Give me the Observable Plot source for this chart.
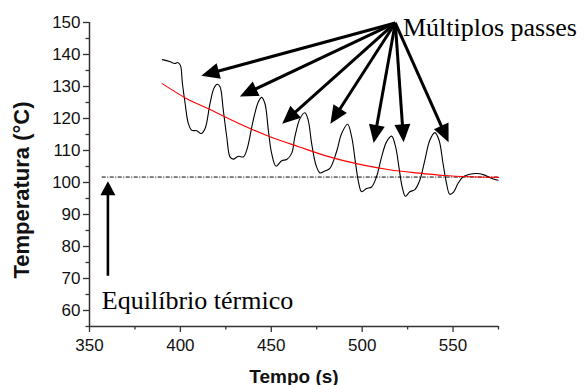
<!DOCTYPE html>
<html>
<head>
<meta charset="utf-8">
<script src="https://cdn.jsdelivr.net/npm/d3@7"></script>
<script src="https://cdn.jsdelivr.net/npm/@observablehq/plot@0.6"></script>
<style>
  body { margin: 0; background: #fff; }
</style>
</head>
<body>
<div id="chart"></div>
<script>
// Measured temperature during the multi-pass run
const timeS = [390.1, 394, 397, 398.5, 400, 401.1, 402.6, 404.4, 406.3, 409, 411.4, 413.6, 416.3, 418.5, 420.3, 421.8,
  423.6, 425.5, 427.3, 429.1, 431.9, 434.6, 436.5, 440.1, 442.9, 444.7, 446.5, 448.4, 450.2, 452.6, 455.7, 458.5,
  461.2, 463.0, 465.8, 468.5, 470.3, 472.2, 474.6, 476.8, 479.5, 482.2, 485.9, 488.7, 492.0, 494.2, 496.4, 497.8,
  499.7, 502.4, 505.2, 507.9, 510.7, 513.4, 516.2, 518.4, 520.2, 522.0, 523.8, 526.2, 529.0, 531.7, 534.5, 537.2,
  540.0, 542.3, 544.5, 546.4, 548.2, 550.4, 552.7, 555.5, 559.2, 563.7, 567.4, 571.1, 574.7];
const tempC = [138.4, 137.8, 137.2, 137.5, 136.6, 131.0, 124.7, 118.4, 116.3, 116.2, 115.3, 116.9, 124.7, 129.5, 130.7, 129.9,
  122.6, 114.3, 108.0, 107.3, 108.2, 108.0, 110.1, 119.5, 125.2, 126.6, 124.7, 116.3, 109.1, 105.1, 106.8, 107.2,
  109.1, 114.3, 120.0, 121.8, 119.5, 112.2, 105.4, 103.0, 103.6, 104.4, 109.6, 115.3, 118.2, 114.3, 105.9, 100.7,
  97.1, 98.1, 98.6, 101.8, 108.0, 112.7, 114.5, 111.1, 104.9, 98.6, 95.7, 97.1, 97.8, 100.7, 107.0, 113.2,
  115.6, 113.2, 105.9, 99.7, 96.3, 97.1, 99.7, 101.8, 102.6, 102.8, 102.3, 101.3, 100.7];

// Decay trend of the peak temperature
const trendTime = [390, 403.5, 416.3, 435.5, 449.3, 465, 482, 500, 515, 530, 545, 560, 575];
const trendTemp = [130.9, 126.2, 122.8, 117.6, 114.3, 111.2, 108.0, 105.5, 104.0, 103.0, 102.2, 101.8, 101.6];

// Thermal equilibrium level
const equilibriumTemp = 101.7;
const equilibriumStart = 357;

// Axis ticks
const xTicks = [350, 400, 450, 500, 550];
const xMinorTicks = [375, 425, 475, 525, 575];
const yTicks = [60, 70, 80, 90, 100, 110, 120, 130, 140, 150];
const yMinorTicks = [55, 65, 75, 85, 95, 105, 115, 125, 135, 145];

// Annotation arrows: one per pass, all leaving the label
const passLabel = "Múltiplos passes";
const passOriginX = 518.5, passOriginY = 149.7;
const passTipX = [411.8, 433.0, 456.3, 482.8, 506.6, 523.1, 547.8];
const passTipY = [133.2, 126.75, 118.2, 118.2, 112.2, 112.4, 112.4];

const equilibriumLabel = "Equilíbrio térmico";
const equilibriumArrowX = 360.4;
const equilibriumArrowFrom = 70.7, equilibriumArrowTo = 100.2;

const sans = "'Liberation Sans', Arial, sans-serif";
const serif = "'Liberation Serif', 'Times New Roman', serif";

// Filled-head arrows drawn through the plot's x and y scales
function filledArrows(arrows, {headLength, headWidth, shaftWidth}) {
  return (index, scales) => {
    const g = d3.create("svg:g");
    for (const a of arrows) {
      const x1 = scales.x(a.x1), y1 = scales.y(a.y1);
      const x2 = scales.x(a.x2), y2 = scales.y(a.y2);
      const dx = x2 - x1, dy = y2 - y1, len = Math.hypot(dx, dy);
      const ux = dx / len, uy = dy / len;
      const bx = x2 - ux * headLength, by = y2 - uy * headLength;
      g.append("line")
        .attr("x1", x1).attr("y1", y1)
        .attr("x2", bx + ux * 2).attr("y2", by + uy * 2)
        .attr("stroke", "#000").attr("stroke-width", shaftWidth);
      g.append("path")
        .attr("d", `M${x2},${y2}L${bx - uy * headWidth / 2},${by + ux * headWidth / 2}L${bx + uy * headWidth / 2},${by - ux * headWidth / 2}Z`)
        .attr("fill", "#000");
    }
    return g.node();
  };
}

const passArrows = passTipX.map((x, i) => ({x1: passOriginX, y1: passOriginY, x2: x, y2: passTipY[i]}));
const equilibriumArrow = [{x1: equilibriumArrowX, y1: equilibriumArrowFrom, x2: equilibriumArrowX, y2: equilibriumArrowTo}];

const axisColor = "#333";

const chart = Plot.plot({
  width: 584,
  height: 385,
  marginLeft: 89,
  marginRight: 86,
  marginTop: 22,
  marginBottom: 59,
  style: {fontFamily: sans, background: "#fff", color: "#111"},
  x: {domain: [350, 575]},
  y: {domain: [55, 150]},
  marks: [
    // axes
    Plot.axisX({ticks: xTicks, tickSize: 6, tickPadding: 6, fontSize: 17, label: null, stroke: axisColor, strokeWidth: 1.3}),
    Plot.axisX({ticks: xMinorTicks, tickSize: 3.5, text: null, label: null, stroke: axisColor, strokeWidth: 1.3}),
    Plot.axisY({ticks: yTicks, tickSize: 6, tickPadding: 3, fontSize: 17, label: null, stroke: axisColor, strokeWidth: 1.3}),
    Plot.axisY({ticks: yMinorTicks, tickSize: 3.5, text: null, label: null, stroke: axisColor, strokeWidth: 1.3}),
    Plot.ruleX([350], {y1: 55, y2: 150, stroke: axisColor, strokeWidth: 1.5}),
    Plot.ruleY([55], {x1: 350, x2: 575, stroke: axisColor, strokeWidth: 1.5}),
    // axis titles
    Plot.text(["Temperatura (°C)"], {frameAnchor: "left", rotate: -90, dx: -60.5, dy: 15.5, textAnchor: "middle", lineAnchor: "bottom",
      fontSize: 22, fontWeight: "bold", fill: "#111"}),
    Plot.text(["Tempo (s)"], {frameAnchor: "bottom", dy: 56, textAnchor: "middle", lineAnchor: "bottom",
      fontSize: 19, fontWeight: "bold", fill: "#111"}),
    // equilibrium level
    Plot.ruleY([equilibriumTemp], {x1: equilibriumStart, x2: 575, stroke: "#000", strokeWidth: 1, strokeDasharray: "4,1.5,1,1.5"}),
    // measured temperature and trend
    Plot.line(timeS, {x: timeS, y: tempC, stroke: "#000", strokeWidth: 1.1, curve: "catmull-rom"}),
    Plot.line(trendTime, {x: trendTime, y: trendTemp, stroke: "#ff0000", strokeWidth: 1.1, curve: "catmull-rom"}),
    // annotations
    filledArrows(passArrows, {headLength: 18, headWidth: 16, shaftWidth: 3}),
    filledArrows(equilibriumArrow, {headLength: 14, headWidth: 15, shaftWidth: 2.6}),
    Plot.text([passLabel], {x: 522.4, y: 145.7, text: d => d, textAnchor: "start", lineAnchor: "bottom",
      fontFamily: serif, fontSize: 26, fill: "#000"}),
    Plot.text([equilibriumLabel], {x: 356.8, y: 60.4, text: d => d, textAnchor: "start", lineAnchor: "bottom",
      fontFamily: serif, fontSize: 26, fill: "#000"})
  ]
});

document.getElementById("chart").append(chart);
</script>
</body>
</html>
